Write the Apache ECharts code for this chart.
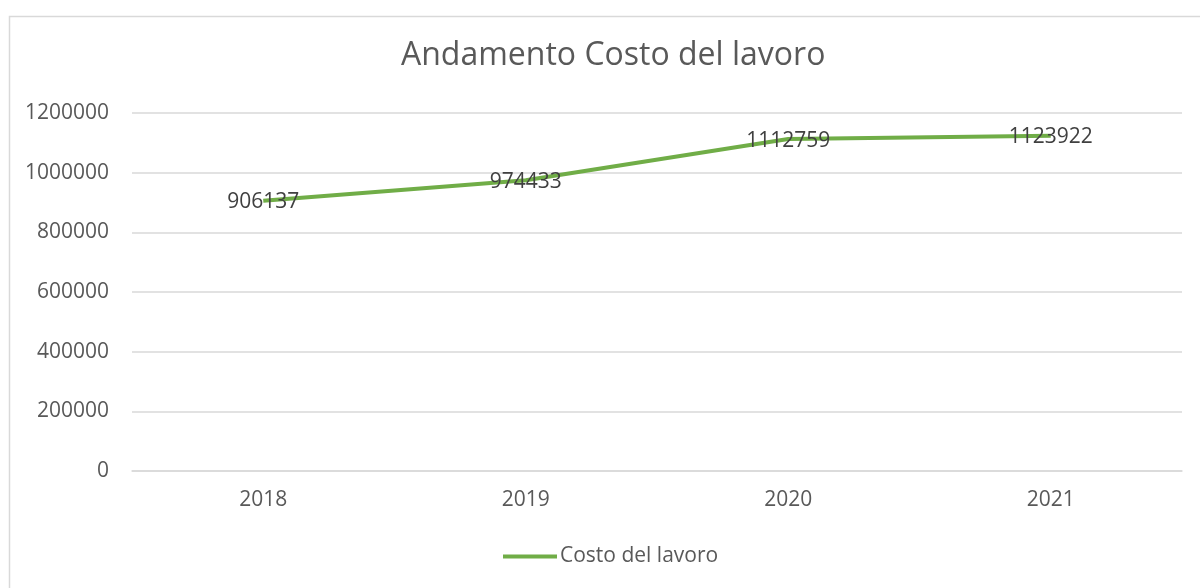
<!DOCTYPE html>
<html><head><meta charset="utf-8">
<script src="https://cdn.jsdelivr.net/npm/echarts@6/dist/echarts.min.js"></script>
<style>html,body{margin:0;padding:0;background:#fff}#c{width:1200px;height:588px}</style>
</head><body><div id="c"></div>
<script>
const categories = ['2018', '2019', '2020', '2021'];
const costoLavoro = [906137, 974433, 1112759, 1123922];
const seriesName = 'Costo del lavoro';
const titleText = 'Andamento Costo del lavoro';

const FONT = '"Open Sans", sans-serif';
const chart = echarts.init(document.getElementById('c'));
chart.setOption({
  animation: false,
  backgroundColor: '#fff',
  graphic: [{
    type: 'rect', left: 7, top: 14, silent: true,
    shape: {x: 0, y: 0, width: 1220, height: 600},
    style: {fill: 'none', stroke: '#d9d9d9', lineWidth: 1.5}
  }],
  title: {
    text: titleText, left: 396, top: 35,
    textStyle: {fontFamily: FONT, fontSize: 32, fontWeight: 'normal', color: '#595959'}
  },
  legend: {
    data: [seriesName], bottom: 16, left: 498,
    itemWidth: 54, itemHeight: 4, itemGap: 4,
    icon: 'rect',
    textStyle: {fontFamily: FONT, fontSize: 21, color: '#595959', padding: [0,0,0,-2]}
  },
  grid: {left: 132, right: 18, top: 113, bottom: 117, containLabel: false},
  xAxis: {
    type: 'category', data: categories, boundaryGap: true,
    axisLine: {show: true, lineStyle: {color: '#d9d9d9', width: 1.5}},
    axisTick: {show: false},
    axisLabel: {fontFamily: FONT, fontSize: 21, color: '#595959', margin: 19}
  },
  yAxis: {
    type: 'value', min: 0, max: 1200000, interval: 200000,
    axisLine: {show: false}, axisTick: {show: false},
    splitLine: {lineStyle: {color: '#d9d9d9', width: 1.5}},
    axisLabel: {fontFamily: FONT, fontSize: 21, color: '#595959', margin: 23,
      formatter: v => String(v)}
  },
  series: [{
    name: seriesName, type: 'line', data: costoLavoro,
    symbol: 'circle', symbolSize: 0, showSymbol: true,
    lineStyle: {color: '#70AD47', width: 4},
    itemStyle: {color: '#70AD47'},
    label: {show: true, position: 'inside', offset: [0, 1.5], fontFamily: FONT, fontSize: 21, color: '#404040',
      formatter: p => String(p.value)}
  }]
});
</script></body></html>
